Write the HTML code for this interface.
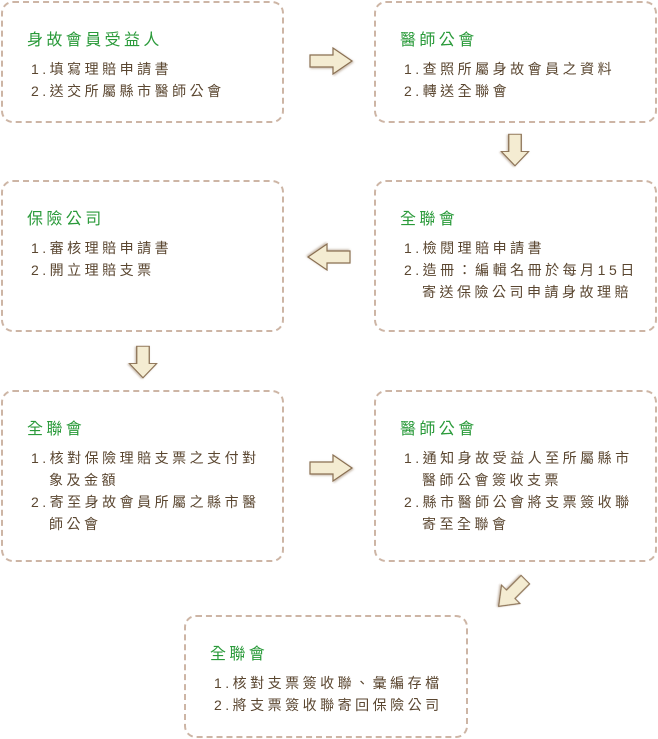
<!DOCTYPE html>
<html><head><meta charset="utf-8"><style>
body{margin:0;width:658px;height:739px;background:#fff;position:relative;overflow:hidden;font-family:"Liberation Sans","Noto Sans CJK TC",sans-serif}
.b{position:absolute;border:2px dashed #cdb5a5;border-radius:12px;box-sizing:border-box}
.t{position:absolute;color:#2a9a3a;font-size:16px;letter-spacing:3.4px;left:24px;top:23px;white-space:nowrap}
.l{position:absolute;left:28px;top:55px;color:#5a4630;font-size:14px;letter-spacing:3.5px;line-height:22px;white-space:nowrap}
.l div{padding-left:18px;text-indent:-18px}
svg{position:absolute}
</style></head><body>
<div class="b" style="left:1px;top:1px;width:283px;height:122px"><div class="t">身故會員受益人</div><div class="l"><div>1.填寫理賠申請書</div><div>2.送交所屬縣市醫師公會</div></div></div>
<div class="b" style="left:374px;top:1px;width:283px;height:122px"><div class="t">醫師公會</div><div class="l"><div>1.查照所屬身故會員之資料</div><div>2.轉送全聯會</div></div></div>
<div class="b" style="left:1px;top:180px;width:283px;height:152px"><div class="t">保險公司</div><div class="l"><div>1.審核理賠申請書</div><div>2.開立理賠支票</div></div></div>
<div class="b" style="left:374px;top:180px;width:283px;height:152px"><div class="t">全聯會</div><div class="l"><div>1.檢閱理賠申請書</div><div>2.造冊：編輯名冊於每月15日<br>寄送保險公司申請身故理賠</div></div></div>
<div class="b" style="left:1px;top:390px;width:283px;height:172px"><div class="t">全聯會</div><div class="l"><div>1.核對保險理賠支票之支付對<br>象及金額</div><div>2.寄至身故會員所屬之縣市醫<br>師公會</div></div></div>
<div class="b" style="left:374px;top:390px;width:283px;height:172px"><div class="t">醫師公會</div><div class="l"><div>1.通知身故受益人至所屬縣市<br>醫師公會簽收支票</div><div>2.縣市醫師公會將支票簽收聯<br>寄至全聯會</div></div></div>
<div class="b" style="left:184px;top:615px;width:284px;height:123px"><div class="t">全聯會</div><div class="l"><div>1.核對支票簽收聯、彙編存檔</div><div>2.將支票簽收聯寄回保險公司</div></div></div>
<svg width="658" height="739" style="left:0;top:0">
<defs><filter id="s"><feDropShadow dx="1" dy="1" stdDeviation="1" flood-color="#a08870" flood-opacity="0.6"/></filter>
<g id="a"><polygon points="-21,-6 2,-6 2,-13 21,0 2,13 2,6 -21,6" fill="#f4ecd2" stroke="#8a7052" stroke-width="1.2" filter="url(#s)"/></g></defs>
<use href="#a" transform="translate(331,61)"/>
<use href="#a" transform="translate(515,150) rotate(90) scale(0.75,1.05)"/>
<use href="#a" transform="translate(329,257) rotate(180)"/>
<use href="#a" transform="translate(143,362) rotate(90) scale(0.75,1.05)"/>
<use href="#a" transform="translate(331,468)"/>
<use href="#a" transform="translate(512,593) rotate(135) scale(0.9,1)"/>
</svg>
</body></html>
